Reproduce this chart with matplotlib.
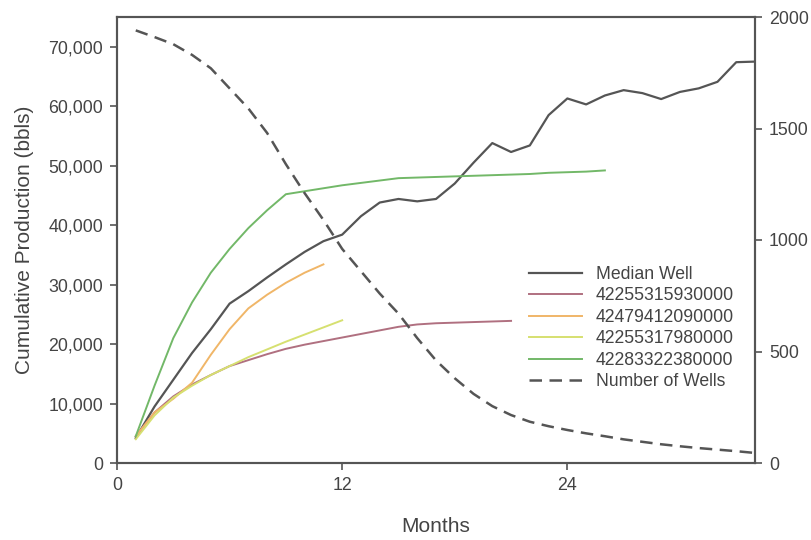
import matplotlib
matplotlib.use("Agg")
import matplotlib.pyplot as plt
from matplotlib.ticker import FuncFormatter

plt.rcParams['font.family'] = ['Liberation Sans', 'DejaVu Sans']

# Cumulative production by month (bbls)
months_median = list(range(1, 35))
median_well = [4200, 9500, 14000, 18500, 22500, 26800, 28900, 31200, 33400, 35500,
               37300, 38400, 41500, 43800, 44400, 44000, 44400, 47000, 50500, 53800,
               52300, 53400, 58500, 61300, 60300, 61800, 62700, 62200, 61200, 62400,
               63000, 64100, 67400, 67500]

months_w1 = list(range(1, 22))
well_42255315930000 = [4500, 8500, 11200, 13200, 14800, 16300, 17300, 18300, 19200, 19900,
                       20500, 21100, 21700, 22300, 22900, 23300, 23500, 23600, 23700, 23800,
                       23900]

months_w2 = list(range(1, 12))
well_42479412090000 = [4500, 8500, 10800, 13500, 18200, 22500, 26000, 28300, 30300, 32000, 33400]

months_w3 = list(range(1, 13))
well_42255317980000 = [4000, 8000, 11000, 13000, 14800, 16300, 17800, 19100, 20400, 21600,
                       22800, 24000]

months_w4 = list(range(1, 27))
well_42283322380000 = [4500, 13000, 21000, 27000, 32000, 36000, 39500, 42500, 45200, 45700,
                       46200, 46700, 47100, 47500, 47900, 48000, 48100, 48200, 48300, 48400,
                       48500, 48600, 48800, 48900, 49000, 49200]

# Number of wells contributing to each month
months_count = list(range(1, 35))
number_of_wells = [1940, 1910, 1878, 1830, 1770, 1680, 1590, 1480, 1340, 1210,
                   1090, 960, 860, 760, 670, 560, 460, 380, 310, 255,
                   215, 185, 165, 148, 133, 120, 106, 95, 84, 75,
                   67, 60, 53, 45]

x_ticks = [0, 12, 24]
left_ticks = list(range(0, 70001, 10000))
right_ticks = [0, 500, 1000, 1500, 2000]

axis_color = '#555555'
text_color = '#444444'

fig = plt.figure(figsize=(8.11, 5.40), dpi=100)
ax = fig.add_axes([117 / 811, 1 - 463 / 540, (755 - 117) / 811, (463 - 17) / 540])
ax2 = ax.twinx()

l_med, = ax.plot(months_median, median_well, color='#555555', lw=1.6, label='Median Well')
l1, = ax.plot(months_w1, well_42255315930000, color='#b07080', lw=1.4, label='42255315930000')
l2, = ax.plot(months_w2, well_42479412090000, color='#f0b668', lw=1.4, label='42479412090000')
l3, = ax.plot(months_w3, well_42255317980000, color='#d6e070', lw=1.4, label='42255317980000')
l4, = ax.plot(months_w4, well_42283322380000, color='#72b868', lw=1.4, label='42283322380000')
l5, = ax2.plot(months_count, number_of_wells, color='#555555', lw=1.8, ls=(0, (5, 3)),
               label='Number of Wells')

ax.set_xlim(0, 34)
ax.set_ylim(0, 75000)
ax2.set_ylim(0, 2000)
ax.set_xticks(x_ticks)
ax.set_yticks(left_ticks)
ax2.set_yticks(right_ticks)
ax.yaxis.set_major_formatter(FuncFormatter(lambda v, p: f'{int(v):,}'))

for a in (ax, ax2):
    for s in a.spines.values():
        s.set_color(axis_color)
        s.set_linewidth(1.5)
    a.tick_params(colors=axis_color, labelcolor=text_color, labelsize=12.8,
                  direction='out', length=5, width=1.2, pad=5)

ax.set_xlabel('Months', fontsize=15, color=text_color, labelpad=17)
ax.set_ylabel('Cumulative Production (bbls)', fontsize=15, color=text_color, labelpad=10)

handles = [l_med, l1, l2, l3, l4, l5]
leg = fig.legend(handles, [h.get_label() for h in handles], loc='upper left',
                 bbox_to_anchor=(522 / 811, 1 - 259 / 540), frameon=False,
                 fontsize=12.7, handlelength=3.0, handletextpad=0.8, labelspacing=0.25,
                 borderaxespad=0)
for t in leg.get_texts():
    t.set_color(text_color)

fig.savefig('out.png', dpi=100)
